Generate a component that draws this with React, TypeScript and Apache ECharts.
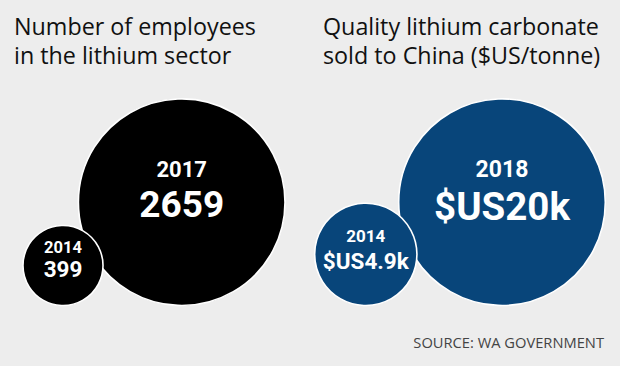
import React, { useEffect, useRef } from "react";
import * as echarts from "echarts";

// ---- data ----
const employeeYears = ["2014", "2017"];
const employeeValues = [399, 2659];
const employeeLabels = ["399", "2659"];

const priceYears = ["2014", "2018"];
const priceValues = [4900, 20000];
const priceLabels = ["$US4.9k", "$US20k"];

const titleLeft = "Number of employees\nin the lithium sector";
const titleRight = "Quality lithium carbonate\nsold to China ($US/tonne)";
const sourceText = "SOURCE: WA GOVERNMENT";

// ---- layout / style ----
const BG = "#ededed";
const BASE_Y = 305.5;
const R_MAX = 103.3;
const FONT = '"Open Sans", sans-serif';
const LABEL_FONT = 'Roboto, "Open Sans", sans-serif';

const panelLayouts = [
  {
    color: "#000000",
    bigCx: 181.7,
    smallCx: 63,
    big: { yearSize: 22, yearDy: -32.5, valueSize: 37, valueDy: 2 },
    small: { yearSize: 16.5, yearDy: -17.5, valueSize: 22.5, valueDy: 4 },
  },
  {
    color: "#08457a",
    bigCx: 502,
    smallCx: 365.8,
    big: { yearSize: 23, yearDy: -33, valueSize: 38.5, valueDy: 4 },
    small: { yearSize: 17, yearDy: -18, valueSize: 22.5, valueDy: 7 },
  },
];

function makeSeries(years: string[], values: number[], labels: string[], layout: any) {
  const maxV = Math.max(...values);
  const order = values.map((_, i) => i).sort((a, b) => values[b] - values[a]);
  return {
    type: "custom",
    coordinateSystem: "none",
    silent: true,
    data: order.map((i) => values[i]),
    renderItem: (params: any) => {
      const i = order[params.dataIndex];
      const v = values[i];
      const r = R_MAX * Math.sqrt(v / maxV);
      const isBig = v === maxV;
      const cx = isBig ? layout.bigCx : layout.smallCx;
      const cy = BASE_Y - r;
      const st = isBig ? layout.big : layout.small;
      return {
        type: "group",
        children: [
          {
            type: "circle",
            shape: { cx, cy, r },
            style: { fill: layout.color, stroke: "#ffffff", lineWidth: 1.6 },
          },
          {
            type: "text",
            x: cx,
            y: cy + st.yearDy,
            style: {
              text: years[i],
              fill: "#ffffff",
              fontFamily: LABEL_FONT,
              fontWeight: "bold",
              fontSize: st.yearSize,
              align: "center",
              verticalAlign: "middle",
            },
          },
          {
            type: "text",
            x: cx,
            y: cy + st.valueDy,
            style: {
              text: labels[i],
              fill: "#ffffff",
              fontFamily: LABEL_FONT,
              fontWeight: "bold",
              fontSize: st.valueSize,
              align: "center",
              verticalAlign: "middle",
            },
          },
        ],
      };
    },
  };
}

export default function App() {
  const ref = useRef<HTMLDivElement>(null);
  useEffect(() => {
    if (!ref.current) return;
    const chart = echarts.init(ref.current, null, { renderer: "svg" });
    const titleStyle = { fontFamily: FONT, fontWeight: "normal", fontSize: 23.3, lineHeight: 29, color: "#111111" };
    chart.setOption({
      animation: false,
      backgroundColor: BG,
      title: [
        { text: titleLeft, left: 14, top: 11, padding: 0, textStyle: titleStyle },
        { text: titleRight, left: 323, top: 11, padding: 0, textStyle: titleStyle },
        {
          text: sourceText,
          right: 16,
          top: 334,
          padding: 0,
          textStyle: { fontFamily: FONT, fontWeight: "normal", fontSize: 14.7, color: "#444444" },
        },
      ],
      series: [
        makeSeries(employeeYears, employeeValues, employeeLabels, panelLayouts[0]),
        makeSeries(priceYears, priceValues, priceLabels, panelLayouts[1]),
      ],
    });
    return () => chart.dispose();
  }, []);
  return (
    <div
      ref={ref}
      style={{ position: "fixed", left: 0, top: 0, width: 620, height: 366 }}
    />
  );
}
